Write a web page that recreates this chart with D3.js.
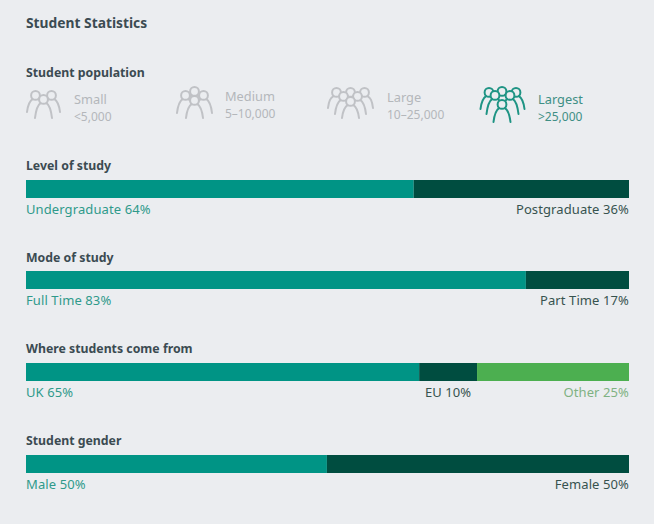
<!DOCTYPE html>
<html>
<head>
<meta charset="utf-8">
<script src="https://cdnjs.cloudflare.com/ajax/libs/d3/7.8.5/d3.min.js"></script>
<style>
  html, body { margin: 0; padding: 0; background: #fff; }
  text { font-family: "Noto Sans", sans-serif; }
</style>
</head>
<body>
<div id="chart"></div>
<script>
// chart values, shares (labels show them rounded)
const sections = ['Level of study', 'Mode of study', 'Where students come from', 'Student gender'];
const sectionLabels = [
  ['Undergraduate', 'Postgraduate'],
  ['Full Time', 'Part Time'],
  ['UK', 'EU', 'Other'],
  ['Male', 'Female']
];
const sectionValues = [
  [64.3, 35.7],
  [82.9, 17.1],
  [65.2, 9.6, 25.2],
  [49.9, 50.1]
];
const sizeNames = ['Small', 'Medium', 'Large', 'Largest'];
const sizeRanges = ['<5,000', '5–10,000', '10–25,000', '>25,000'];
const sizeActive = [false, false, false, true];

const width = 656;
const height = 524;
const bg = '#ebedf0';
const teal = '#009485';
const dark = '#004d40';
const green = '#4caf50';
const grey = '#b4b7bb';
const ink = '#3b4b52';
const barColors = [teal, dark, green];
const labelColors = ['#2f9a8b', '#37534f', '#7fb283'];

const svg = d3.select('#chart').append('svg')
  .attr('width', width)
  .attr('height', height)
  .style('display', 'block');

svg.append('rect').attr('width', 654).attr('height', height).attr('fill', bg);

svg.append('text').attr('x', 26).attr('y', 28)
  .attr('font-size', 13.8).attr('font-weight', 700).attr('fill', ink)
  .text('Student Statistics');

svg.append('text').attr('x', 26).attr('y', 77)
  .attr('font-size', 12.3).attr('font-weight', 700).attr('fill', ink)
  .text('Student population');

// one little person: head plus arched body, filled so it hides whoever stands behind
function person(g, cx, top, h) {
  const r = 4.4;
  const w = 8.5;
  const neck = top + 2 * r - 0.6;
  const left = `M${cx - 3},${neck} C${cx - 6},${neck + 2} ${cx - w + 1},${top + h - 8} ${cx - w},${top + h}`;
  const right = `M${cx + 3},${neck} C${cx + 6},${neck + 2} ${cx + w - 1},${top + h - 8} ${cx + w},${top + h}`;
  g.append('path')
    .attr('d', `M${cx - w},${top + h} C${cx - w + 1},${top + h - 8} ${cx - 6},${neck + 2} ${cx - 3},${neck} L${cx + 3},${neck} C${cx + 6},${neck + 2} ${cx + w - 1},${top + h - 8} ${cx + w},${top + h} Z`)
    .attr('fill', bg).attr('stroke', 'none');
  g.append('circle').attr('cx', cx).attr('cy', top + r).attr('r', r).attr('fill', bg);
  g.append('path').attr('d', left + right);
}

// [x offset, top, height], drawn back to front
const crowds = [
  [[-8, 91, 21], [8, 91, 21], [0, 95, 23]],
  [[0, 87, 20], [-9, 91, 22], [9, 91, 22], [0, 96, 22]],
  [[-14, 88, 20], [14, 88, 20], [0, 88, 20], [-7, 92, 22], [7, 92, 22], [0, 97, 21]],
  [[-13, 88, 21], [14, 88, 21], [0, 87, 20], [-7, 91, 23], [8, 91, 23], [0, 100, 22]]
];
const iconX = [43.5, 194.5, 350.5, 502];
const textX = [74, 225, 387, 538];
const nameY = [104, 101, 102, 104];
const rangeY = [121, 118, 119, 121];

sizeNames.forEach((name, i) => {
  const colour = sizeActive[i] ? '#1f9484' : '#c0c2c6';
  const g = svg.append('g').attr('stroke', colour).attr('fill', 'none')
    .attr('stroke-width', 2).attr('stroke-linecap', 'round');
  crowds[i].forEach(d => person(g, iconX[i] + d[0], d[1], d[2]));
  svg.append('text').attr('x', textX[i]).attr('y', nameY[i])
    .attr('font-size', 12.8).attr('fill', sizeActive[i] ? '#3f8f85' : grey).text(name);
  svg.append('text').attr('x', textX[i]).attr('y', rangeY[i])
    .attr('font-size', 12).attr('fill', sizeActive[i] ? '#3f8f85' : grey).text(sizeRanges[i]);
});

const x = d3.scaleLinear().domain([0, 100]).range([26, 629]);
const titleY = [170, 262, 353, 445];
const barY = [180, 271, 363, 455];
const barH = 18;

sections.forEach((title, i) => {
  svg.append('text').attr('x', 26).attr('y', titleY[i])
    .attr('font-size', 12.3).attr('font-weight', 700).attr('fill', ink).text(title);

  const values = sectionValues[i];
  const starts = [0].concat(Array.from(d3.cumsum(values)));
  values.forEach((v, j) => {
    svg.append('rect')
      .attr('x', x(starts[j])).attr('y', barY[i])
      .attr('width', x(starts[j] + v) - x(starts[j])).attr('height', barH)
      .attr('fill', barColors[j]);

    // first label hugs the left, last the right, a middle one sits centred
    const last = j === values.length - 1;
    const anchor = j === 0 ? 'start' : last ? 'end' : 'middle';
    const tx = j === 0 ? x(0) : last ? x(100) : x(starts[j] + v / 2);
    svg.append('text').attr('x', tx).attr('y', barY[i] + 34)
      .attr('text-anchor', anchor).attr('font-size', 13)
      .attr('letter-spacing', 0.1)
      .attr('fill', labelColors[values.length === 2 && last ? 1 : j])
      .text(`${sectionLabels[i][j]} ${Math.round(v)}%`);
  });
});
</script>
</body>
</html>
